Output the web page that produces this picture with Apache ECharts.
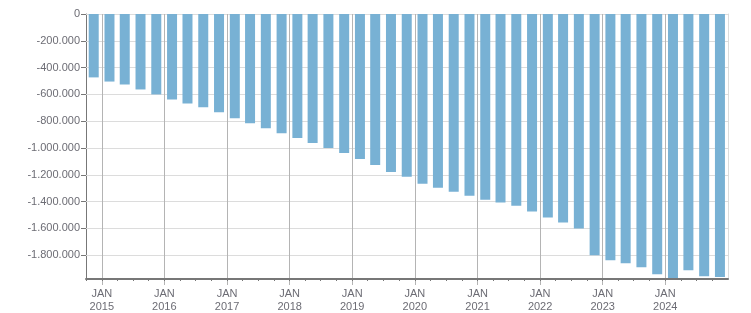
<!DOCTYPE html>
<html><head><meta charset="utf-8">
<script src="https://cdn.jsdelivr.net/npm/echarts@6/dist/echarts.min.js"></script>
<style>html,body{margin:0;padding:0;background:#fff}#c{width:751px;height:313px}</style>
</head><body><div id="c"></div>
<script>
// Quarter (mid-quarter date) of each bar
const quarterDates = [
  '2014-11-15',
  '2015-02-15','2015-05-15','2015-08-15','2015-11-15',
  '2016-02-15','2016-05-15','2016-08-15','2016-11-15',
  '2017-02-15','2017-05-15','2017-08-15','2017-11-15',
  '2018-02-15','2018-05-15','2018-08-15','2018-11-15',
  '2019-02-15','2019-05-15','2019-08-15','2019-11-15',
  '2020-02-15','2020-05-15','2020-08-15','2020-11-15',
  '2021-02-15','2021-05-15','2021-08-15','2021-11-15',
  '2022-02-15','2022-05-15','2022-08-15','2022-11-15',
  '2023-02-15','2023-05-15','2023-08-15','2023-11-15',
  '2024-02-15','2024-05-15','2024-08-15','2024-11-15'
];
const values = [
  -473000,
  -504000, -526000, -563000, -600000,
  -637000, -667000, -696000, -733000,
  -778000, -815000, -852000, -889000,
  -926000, -963000, -1000000, -1037000,
  -1081000, -1126000, -1178000, -1215000,
  -1267000, -1296000, -1326000, -1356000,
  -1385000, -1407000, -1430000, -1474000,
  -1519000, -1556000, -1600000, -1800000,
  -1837000, -1859000, -1889000, -1941000,
  -1977000, -1911000, -1956000, -1963000
];
const yearLabels = ['2015','2016','2017','2018','2019','2020','2021','2022','2023','2024'];
const monthLabel = 'JAN';
const yTickValues = [0,-200000,-400000,-600000,-800000,-1000000,-1200000,-1400000,-1600000,-1800000];
const axisStart = '2014-10-01';
const axisEnd = '2025-01-01';

function ts(s){const p=s.split('-').map(Number);return Date.UTC(p[0],p[1]-1,p[2]);}
const yearTicks = yearLabels.map(y => ts(y + '-01-01'));
const minorTicks = [ts(axisStart)];
yearLabels.forEach(y => { ['01','04','07','10'].forEach(m => minorTicks.push(ts(y + '-' + m + '-01'))); });
function fmt(v){
  const s = Math.abs(Math.round(v)).toString().replace(/\B(?=(\d{3})+(?!\d))/g, '.');
  return (v < 0 ? '-' : '') + s;
}
function yearLabel(v){
  let best = 0, bd = Infinity;
  yearTicks.forEach((t, i) => { const d = Math.abs(t - v); if (d < bd) { bd = d; best = i; } });
  return monthLabel + '\n' + yearLabels[best];
}
const FONT = 'Liberation Sans';
const FS = 11;
const TXT = '#6c6c74';
const yMin = Math.min.apply(null, values);
const xMin = ts(axisStart), xMax = ts(axisEnd);

const chart = echarts.init(document.getElementById('c'), null, {renderer: 'canvas'});
chart.setOption({
  animation: false,
  grid: {left: 86, right: 23, top: 14, bottom: 32, containLabel: false},
  xAxis: [
    {
      type: 'value', min: xMin, max: xMax, position: 'bottom', z: 3,
      axisLine: {show: true, onZero: false, lineStyle: {color: '#777', width: 2}},
      axisTick: {show: true, customValues: minorTicks, length: 2, lineStyle: {color: '#777'}},
      axisLabel: {
        show: true, customValues: yearTicks, formatter: yearLabel,
        color: TXT, fontFamily: FONT, fontSize: FS, lineHeight: 13, margin: 8, hideOverlap: false
      },
      splitLine: {show: false}
    },
    {
      type: 'value', min: xMin, max: xMax, position: 'top',
      axisLine: {show: true, onZero: false, lineStyle: {color: '#dcdcdc', width: 1}},
      axisTick: {show: true, customValues: yearTicks, inside: true, length: 271, lineStyle: {color: '#b4b4b4', width: 1}},
      axisLabel: {show: false},
      splitLine: {show: false}
    }
  ],
  yAxis: [
    {
      type: 'value', min: yMin, max: 0, position: 'left',
      axisLine: {show: true, onZero: false, lineStyle: {color: '#777', width: 1}},
      axisTick: {show: true, customValues: yTickValues, length: 5, lineStyle: {color: '#777'}},
      axisLabel: {show: true, customValues: yTickValues, formatter: fmt, color: TXT, fontFamily: FONT, fontSize: FS, margin: 6},
      splitLine: {show: false}
    },
    {
      type: 'value', min: yMin, max: 0, position: 'right',
      axisLine: {show: true, onZero: false, lineStyle: {color: '#dcdcdc', width: 1}},
      axisTick: {show: true, customValues: yTickValues, inside: true, length: 642, lineStyle: {color: '#dcdcdc', width: 1}},
      axisLabel: {show: false},
      splitLine: {show: false}
    }
  ],
  series: [{
    type: 'bar', xAxisIndex: 0, yAxisIndex: 0,
    data: quarterDates.map((d, i) => [ts(d), values[i]]),
    barWidth: 10,
    itemStyle: {color: '#78b1d4'}
  }]
});
</script></body></html>
